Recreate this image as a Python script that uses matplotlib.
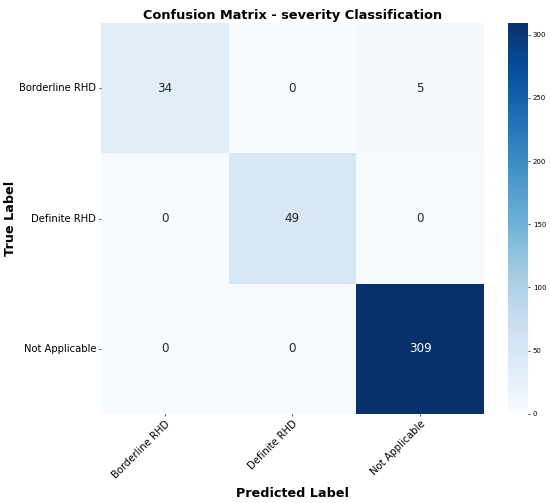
import matplotlib
matplotlib.use("Agg")
import matplotlib.pyplot as plt
import numpy as np
import seaborn as sns

labels = ["Borderline RHD", "Definite RHD", "Not Applicable"]
counts = np.array([
    [34, 0, 5],
    [0, 49, 0],
    [0, 0, 309],
])

fig = plt.figure(figsize=(5.5, 5.03), dpi=100)
ax = fig.add_axes([0.1836, 0.177, 0.696, 0.777])
cax = fig.add_axes([0.924, 0.177, 0.036, 0.777])

sns.heatmap(counts, annot=True, fmt="d", cmap="Blues", ax=ax, cbar_ax=cax,
            xticklabels=labels, yticklabels=labels,
            annot_kws={"size": 8.6})

ax.set_title("Confusion Matrix - severity Classification", fontsize=9.3, fontweight="bold", pad=3)
ax.set_xlabel("Predicted Label", fontsize=9.2, fontweight="bold", labelpad=5)
ax.set_ylabel("True Label", fontsize=9.2, fontweight="bold", labelpad=1.5)
ax.set_xticklabels(labels, rotation=45, ha="right", rotation_mode="anchor", fontsize=7.2)
ax.set_yticklabels(labels, rotation=0, fontsize=7.2)
ax.tick_params(length=1.5, width=0.5, pad=2)
cax.tick_params(labelsize=5, length=1.5, width=0.5, pad=2)

fig.savefig("out.png", dpi=100)
